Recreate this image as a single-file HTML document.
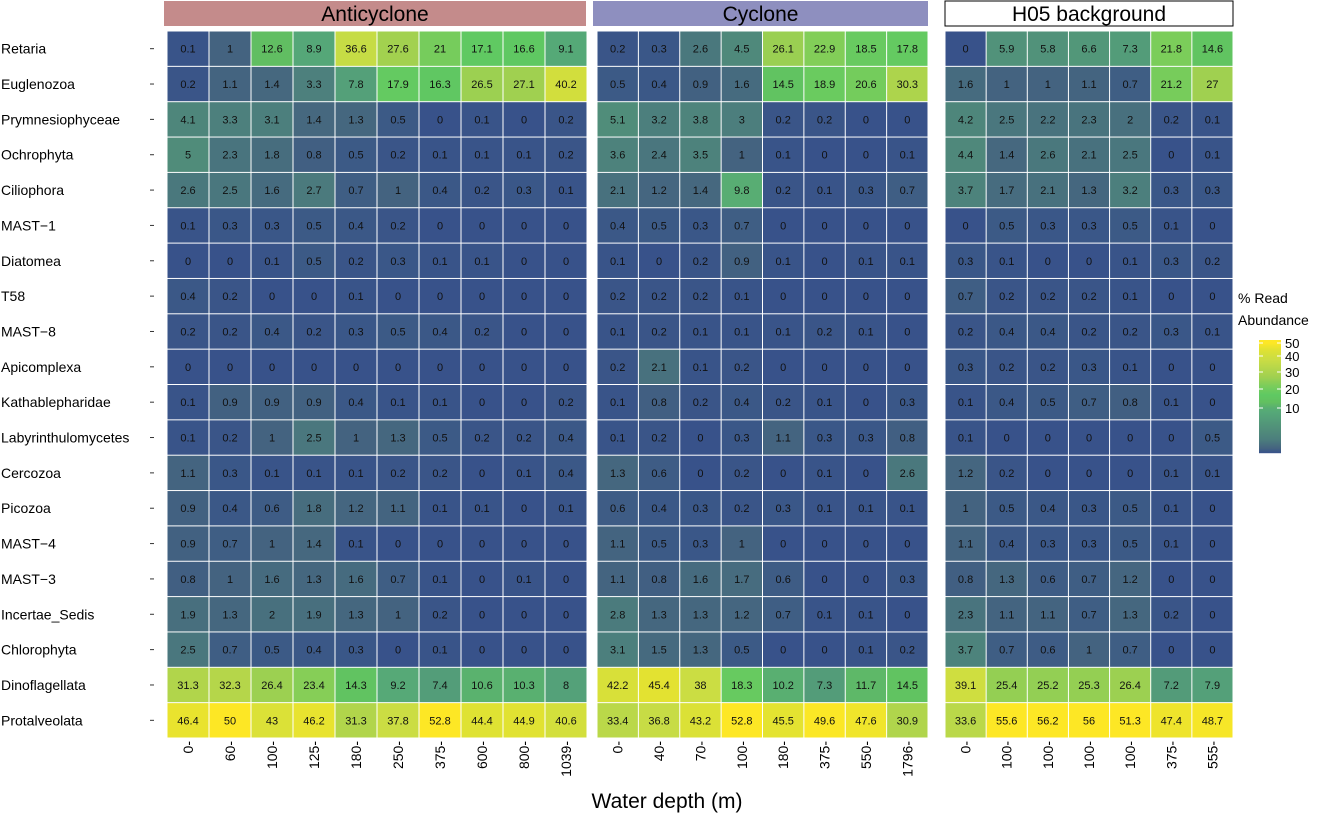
<!DOCTYPE html>
<html><head><meta charset="utf-8">
<style>
html,body{margin:0;padding:0;background:#fff;width:1320px;height:813px;overflow:hidden;font-family:"Liberation Sans",Arial,sans-serif;}
svg text{font-family:"Liberation Sans",Arial,sans-serif;}
</style></head>
<body>
<svg id="chart" width="1320" height="813" xmlns="http://www.w3.org/2000/svg"></svg>
<script>
const taxa=["Retaria","Euglenozoa","Prymnesiophyceae","Ochrophyta","Ciliophora","MAST\u22121","Diatomea","T58","MAST\u22128","Apicomplexa","Kathablepharidae","Labyrinthulomycetes","Cercozoa","Picozoa","MAST\u22124","MAST\u22123","Incertae_Sedis","Chlorophyta","Dinoflagellata","Protalveolata"];
const panelNames=["Anticyclone","Cyclone","H05 background"];
const depthsA=["0","60","100","125","180","250","375","600","800","1039"];
const depthsC=["0","40","70","100","180","375","550","1796"];
const depthsH=["0","100","100","100","100","375","555"];
const valuesA=[
[0.1,1,12.6,8.9,36.6,27.6,21,17.1,16.6,9.1],
[0.2,1.1,1.4,3.3,7.8,17.9,16.3,26.5,27.1,40.2],
[4.1,3.3,3.1,1.4,1.3,0.5,0,0.1,0,0.2],
[5,2.3,1.8,0.8,0.5,0.2,0.1,0.1,0.1,0.2],
[2.6,2.5,1.6,2.7,0.7,1,0.4,0.2,0.3,0.1],
[0.1,0.3,0.3,0.5,0.4,0.2,0,0,0,0],
[0,0,0.1,0.5,0.2,0.3,0.1,0.1,0,0],
[0.4,0.2,0,0,0.1,0,0,0,0,0],
[0.2,0.2,0.4,0.2,0.3,0.5,0.4,0.2,0,0],
[0,0,0,0,0,0,0,0,0,0],
[0.1,0.9,0.9,0.9,0.4,0.1,0.1,0,0,0.2],
[0.1,0.2,1,2.5,1,1.3,0.5,0.2,0.2,0.4],
[1.1,0.3,0.1,0.1,0.1,0.2,0.2,0,0.1,0.4],
[0.9,0.4,0.6,1.8,1.2,1.1,0.1,0.1,0,0.1],
[0.9,0.7,1,1.4,0.1,0,0,0,0,0],
[0.8,1,1.6,1.3,1.6,0.7,0.1,0,0.1,0],
[1.9,1.3,2,1.9,1.3,1,0.2,0,0,0],
[2.5,0.7,0.5,0.4,0.3,0,0.1,0,0,0],
[31.3,32.3,26.4,23.4,14.3,9.2,7.4,10.6,10.3,8],
[46.4,50,43,46.2,31.3,37.8,52.8,44.4,44.9,40.6]];
const valuesC=[
[0.2,0.3,2.6,4.5,26.1,22.9,18.5,17.8],
[0.5,0.4,0.9,1.6,14.5,18.9,20.6,30.3],
[5.1,3.2,3.8,3,0.2,0.2,0,0],
[3.6,2.4,3.5,1,0.1,0,0,0.1],
[2.1,1.2,1.4,9.8,0.2,0.1,0.3,0.7],
[0.4,0.5,0.3,0.7,0,0,0,0],
[0.1,0,0.2,0.9,0.1,0,0.1,0.1],
[0.2,0.2,0.2,0.1,0,0,0,0],
[0.1,0.2,0.1,0.1,0.1,0.2,0.1,0],
[0.2,2.1,0.1,0.2,0,0,0,0],
[0.1,0.8,0.2,0.4,0.2,0.1,0,0.3],
[0.1,0.2,0,0.3,1.1,0.3,0.3,0.8],
[1.3,0.6,0,0.2,0,0.1,0,2.6],
[0.6,0.4,0.3,0.2,0.3,0.1,0.1,0.1],
[1.1,0.5,0.3,1,0,0,0,0],
[1.1,0.8,1.6,1.7,0.6,0,0,0.3],
[2.8,1.3,1.3,1.2,0.7,0.1,0.1,0],
[3.1,1.5,1.3,0.5,0,0,0.1,0.2],
[42.2,45.4,38,18.3,10.2,7.3,11.7,14.5],
[33.4,36.8,43.2,52.8,45.5,49.6,47.6,30.9]];
const valuesH=[
[0,5.9,5.8,6.6,7.3,21.8,14.6],
[1.6,1,1,1.1,0.7,21.2,27],
[4.2,2.5,2.2,2.3,2,0.2,0.1],
[4.4,1.4,2.6,2.1,2.5,0,0.1],
[3.7,1.7,2.1,1.3,3.2,0.3,0.3],
[0,0.5,0.3,0.3,0.5,0.1,0],
[0.3,0.1,0,0,0.1,0.3,0.2],
[0.7,0.2,0.2,0.2,0.1,0,0],
[0.2,0.4,0.4,0.2,0.2,0.3,0.1],
[0.3,0.2,0.2,0.3,0.1,0,0],
[0.1,0.4,0.5,0.7,0.8,0.1,0],
[0.1,0,0,0,0,0,0.5],
[1.2,0.2,0,0,0,0.1,0.1],
[1,0.5,0.4,0.3,0.5,0.1,0],
[1.1,0.4,0.3,0.3,0.5,0.1,0],
[0.8,1.3,0.6,0.7,1.2,0,0],
[2.3,1.1,1.1,0.7,1.3,0.2,0],
[3.7,0.7,0.6,1,0.7,0,0],
[39.1,25.4,25.2,25.3,26.4,7.2,7.9],
[33.6,55.6,56.2,56,51.3,47.4,48.7]];
const legendTicks=[10,20,30,40,50];

const NS="http://www.w3.org/2000/svg";
const svg=document.getElementById('chart');
function mk(tag,attrs,parent){const e=document.createElementNS(NS,tag);for(const k in attrs)e.setAttribute(k,attrs[k]);(parent||svg).appendChild(e);return e;}
const cstops=[[0,[56,82,138]],[0.5,[60,90,134]],[1,[68,99,128]],[2,[72,112,126]],[3,[76,126,125]],[5,[80,140,122]],[9,[85,168,120]],[13,[98,192,96]],[17,[95,201,98]],[22,[124,205,90]],[27,[160,208,80]],[37,[200,220,69]],[45,[225,226,50]],[50,[253,231,37]]];
function color(v){
  v=Math.max(0,Math.min(v,50));
  for(let i=1;i<cstops.length;i++){if(v<=cstops[i][0]){const a=cstops[i-1],b=cstops[i];const f=(v-a[0])/(b[0]-a[0]);return 'rgb('+a[1].map((c,j)=>Math.round(c+(b[1][j]-c)*f)).join(',')+')';}}
  return 'rgb(253,231,37)';
}
const top0=31, rowH=35.35;
function yScale(i){return top0+i*rowH;}
const panels=[
 {name:panelNames[0],x0:167,x1:587,d:depthsA,v:valuesA,fill:'#c48b8b',stroke:'none',sx0:164,sx1:586},
 {name:panelNames[1],x0:597,x1:928,d:depthsC,v:valuesC,fill:'#8e8fbf',stroke:'none',sx0:593,sx1:928},
 {name:panelNames[2],x0:945,x1:1233,d:depthsH,v:valuesH,fill:'#ffffff',stroke:'#000',sx0:945,sx1:1233}];
panels.forEach((p,pi)=>{
  const g=mk('g',{});
  
  
  const strip=mk('rect',{x:p.sx0,y:1,width:p.sx1-p.sx0,height:25,fill:p.fill,stroke:p.stroke,'stroke-width':1},g);
  
  
  const st=mk('text',{x:(p.sx0+p.sx1)/2,y:21,'font-size':21,'text-anchor':'middle',fill:'#000'},g);
  st.textContent=p.name;
  
  
  const n=p.d.length, cw=(p.x1-p.x0)/n;
  const xScale=j=>p.x0+j*cw;
  p.v.forEach((row,i)=>{
    row.forEach((val,j)=>{
      const r=mk('rect',{x:xScale(j)+0.5,y:yScale(i)+0.5,width:cw-1,height:rowH-1,fill:color(val)},g);
      
      
      const t=mk('text',{x:xScale(j)+cw/2,y:yScale(i)+rowH/2+4,'font-size':11,'text-anchor':'middle',fill:'#111'},g);
      t.textContent=String(val);
      
      
    });
  });
  p.d.forEach((lab,j)=>{
    const cx=xScale(j)+cw/2+5;
    const t=mk('text',{x:0,y:0,'font-size':14,'text-anchor':'end',fill:'#000',transform:'translate('+cx+',741) rotate(-90)'},g);
    t.textContent=lab+'-';
    
    
  });
});
taxa.forEach((tx,i)=>{
  const t=mk('text',{x:1,y:yScale(i)+rowH/2+5,'font-size':14,fill:'#000'});
  t.textContent=tx;
  
  
  const tk=mk('line',{x1:150,x2:154,y1:yScale(i)+rowH/2,y2:yScale(i)+rowH/2,stroke:'#333','stroke-width':1});
  
  
});
const xt=mk('text',{x:667,y:808,'font-size':21,'text-anchor':'middle',fill:'#000'});
xt.textContent='Water depth (m)';


// legend
const lg=mk('g',{});


const lt1=mk('text',{x:1238,y:303,'font-size':14,fill:'#000'},lg);lt1.textContent='% Read';
const lt2=mk('text',{x:1238,y:325,'font-size':14,fill:'#000'},lg);lt2.textContent='Abundance';
const lx=1259,lw=22,ly0=340,ly1=453;
const lpts=[[0,453],[10,408],[20,389],[30,372],[40,356],[50,343],[52,340]];
function legY(v){for(let i=1;i<lpts.length;i++){if(v<=lpts[i][0]){const a=lpts[i-1],b=lpts[i];return a[1]+(b[1]-a[1])*(v-a[0])/(b[0]-a[0]);}}return 340;}
function legV(y){for(let i=1;i<lpts.length;i++){if(y>=lpts[i][1]){const a=lpts[i-1],b=lpts[i];return a[0]+(b[0]-a[0])*(a[1]-y)/(a[1]-b[1]);}}return 50;}
for(let y=ly0;y<ly1;y++){
  mk('rect',{x:lx,y:y,width:lw,height:1.2,fill:color(legV(y+0.5))},lg);
}
legendTicks.forEach(v=>{
  const y=legY(v);
  mk('line',{x1:lx,x2:lx+4,y1:y,y2:y,stroke:'#fff'},lg);
  mk('line',{x1:lx+lw-4,x2:lx+lw,y1:y,y2:y,stroke:'#fff'},lg);
  const t=mk('text',{x:lx+lw+4,y:y+5,'font-size':13,fill:'#000'},lg);
  t.textContent=String(v);
  
  
});
</script>
</body></html>
